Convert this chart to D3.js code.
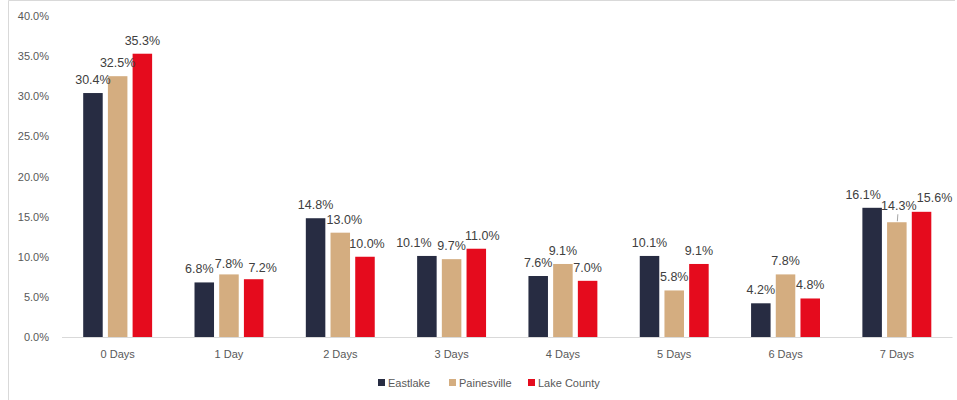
<!DOCTYPE html>
<html>
<head>
<meta charset="utf-8">
<script src="https://cdn.jsdelivr.net/npm/d3@7"></script>
<style>
  html, body { margin: 0; padding: 0; background: #ffffff; }
  svg { display: block; }
  text { font-family: "Liberation Sans", Arial, sans-serif; }
</style>
</head>
<body>
<svg id="chart" width="957" height="400"></svg>
<script>
// Share of respondents by number of days, per area
const categories = ["0 Days", "1 Day", "2 Days", "3 Days", "4 Days", "5 Days", "6 Days", "7 Days"];
const seriesNames = ["Eastlake", "Painesville", "Lake County"];
const eastlake    = [30.4, 6.8, 14.8, 10.1, 7.6, 10.1, 4.2, 16.1];
const painesville = [32.5, 7.8, 13.0, 9.7, 9.1, 5.8, 7.8, 14.3];
const lakeCounty  = [35.3, 7.2, 10.0, 11.0, 7.0, 9.1, 4.8, 15.6];
const yTicks = [0, 5, 10, 15, 20, 25, 30, 35, 40];

const seriesValues = [eastlake, painesville, lakeCounty];
const colors = ["#272c42", "#d4ad80", "#e50b1d"];

// Hand placement of labels that would otherwise collide
const labelNudge = {
  "1 Day|Eastlake": [-5, 0],
  "1 Day|Painesville": [0, 3],
  "1 Day|Lake County": [9, 2],
  "2 Days|Painesville": [4, 0],
  "2 Days|Lake County": [2, 0],
  "3 Days|Eastlake": [-13, 0],
  "3 Days|Lake County": [6, 0],
  "7 Days|Eastlake": [-9, 0],
  "7 Days|Painesville": [2, -3],
  "7 Days|Lake County": [13, -1]
};
const leaderLines = new Set(["7 Days|Painesville"]);

const svg = d3.select("#chart");

// chart frame (only the top and left edges fall inside the view)
svg.append("path")
  .attr("d", "M8.5,400 V0.5 H955")
  .attr("fill", "none")
  .attr("stroke", "#d9d9d9")
  .attr("stroke-width", 1);

const plot = { left: 62, right: 952.5, top: 16, bottom: 337 };

const x0 = d3.scaleBand().domain(categories).range([plot.left, plot.right]).padding(0);
const x1 = d3.scaleBand().domain(seriesNames).range([0, x0.bandwidth()])
  .paddingInner(0.21).paddingOuter(0.858);
const y = d3.scaleLinear().domain([0, 40]).range([plot.bottom, plot.top]);

// y axis labels
const yAxis = d3.axisLeft(y).tickValues(yTicks).tickSize(0).tickPadding(0)
  .tickFormat(d => d.toFixed(1) + "%");
const yg = svg.append("g").attr("transform", "translate(49,0)").call(yAxis);
yg.select(".domain").remove();
yg.selectAll("text")
  .attr("fill", "#595959")
  .style("font-size", "11px")
  .style("font-family", "'Liberation Sans', Arial, sans-serif");

// baseline
svg.append("line")
  .attr("x1", plot.left).attr("x2", plot.right)
  .attr("y1", plot.bottom + 0.5).attr("y2", plot.bottom + 0.5)
  .attr("stroke", "#d9d9d9").attr("stroke-width", 1);

// x axis labels
const xAxis = d3.axisBottom(x0).tickSize(0).tickPadding(13);
const xg = svg.append("g").attr("transform", `translate(0,${plot.bottom})`).call(xAxis);
xg.select(".domain").remove();
xg.selectAll("text")
  .attr("fill", "#595959")
  .style("font-size", "11px")
  .style("font-family", "'Liberation Sans', Arial, sans-serif");

// bars and value labels
const rows = [];
categories.forEach((c, i) => {
  seriesNames.forEach((s, j) => {
    rows.push({ cat: c, series: s, value: seriesValues[j][i], color: colors[j] });
  });
});

svg.append("g").selectAll("rect")
  .data(rows)
  .join("rect")
  .attr("x", d => x0(d.cat) + x1(d.series))
  .attr("y", d => y(d.value))
  .attr("width", x1.bandwidth())
  .attr("height", d => y(0) - y(d.value))
  .attr("fill", d => d.color);

const labels = svg.append("g");
rows.forEach(d => {
  const key = d.cat + "|" + d.series;
  const [dx, dy] = labelNudge[key] || [0, 0];
  const cx = x0(d.cat) + x1(d.series) + x1.bandwidth() / 2;
  const top = y(d.value);
  labels.append("text")
    .attr("x", cx + dx)
    .attr("y", top - 9 + dy)
    .attr("text-anchor", "middle")
    .attr("fill", "#404040")
    .style("font-size", "12.5px")
    .text(d.value.toFixed(1) + "%");
  if (leaderLines.has(key)) {
    labels.append("line")
      .attr("x1", cx + 1).attr("x2", cx + 0.5)
      .attr("y1", top - 8).attr("y2", top - 1)
      .attr("stroke", "#a6a6a6").attr("stroke-width", 1);
  }
});

// legend
const legendItems = [
  { name: seriesNames[0], color: colors[0], x: 378 },
  { name: seriesNames[1], color: colors[1], x: 449 },
  { name: seriesNames[2], color: colors[2], x: 528 }
];
const lg = svg.append("g");
legendItems.forEach(it => {
  lg.append("rect").attr("x", it.x).attr("y", 379).attr("width", 7).attr("height", 7).attr("fill", it.color);
  lg.append("text").attr("x", it.x + 10).attr("y", 387)
    .attr("fill", "#595959").style("font-size", "11px").text(it.name);
});
</script>
</body>
</html>
